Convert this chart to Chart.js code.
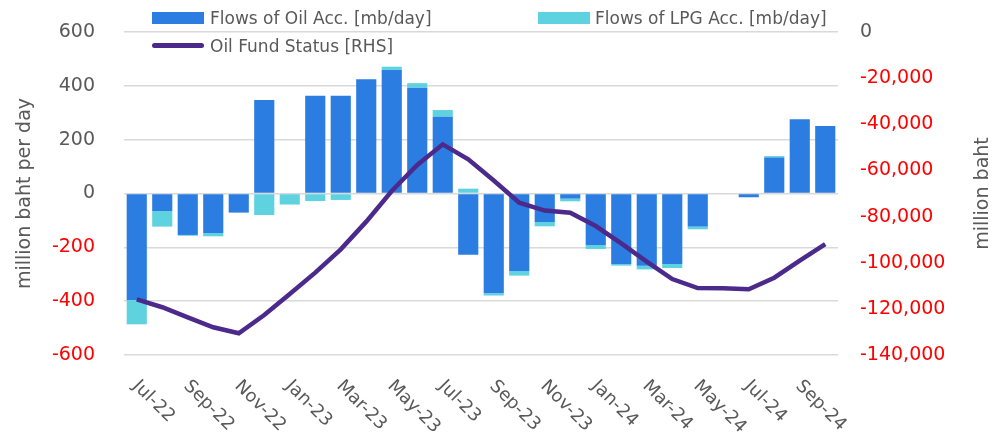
<!DOCTYPE html>
<html>
<head>
<meta charset="utf-8">
<script src="https://cdn.jsdelivr.net/npm/chart.js@4.4.1/dist/chart.umd.min.js"></script>
<style>
  body { margin: 0; background: #fff; font-family: 'DejaVu Sans', sans-serif; }
  #wrap { position: relative; width: 997px; height: 441px; }
  .leg { position: absolute; font-size: 17px; color: #595959; line-height: 20px; white-space: nowrap; }
  .sw { position: absolute; }
</style>
</head>
<body>
<div id="wrap">
  <canvas id="dataChart" width="997" height="441"></canvas>
  <div class="sw" style="left:152px;top:12px;width:52px;height:12px;background:#2b7de1"></div>
  <div class="leg" style="left:210px;top:8px">Flows of Oil Acc. [mb/day]</div>
  <div class="sw" style="left:538px;top:12px;width:52px;height:12px;background:#5fd2e0"></div>
  <div class="leg" style="left:595px;top:8px">Flows of LPG Acc. [mb/day]</div>
  <div class="sw" style="left:152px;top:43px;width:52px;height:5px;border-radius:3px;background:#4b2a8c"></div>
  <div class="leg" style="left:210px;top:36px">Oil Fund Status [RHS]</div>
</div>
<script>
// Data
const months = ['Jul-22', 'Aug-22', 'Sep-22', 'Oct-22', 'Nov-22', 'Dec-22', 'Jan-23', 'Feb-23', 'Mar-23', 'Apr-23',
    'May-23', 'Jun-23', 'Jul-23', 'Aug-23', 'Sep-23', 'Oct-23', 'Nov-23', 'Dec-23', 'Jan-24', 'Feb-24',
    'Mar-24', 'Apr-24', 'May-24', 'Jun-24', 'Jul-24', 'Aug-24', 'Sep-24', 'Oct-24'];
const oilFlows = [-396, -65, -154, -147, -71, 347, 0, 363, 363, 424, 459, 393, 285, -228,
    -371, -288, -106, -19, -191, -262, -268, -262, -123, 0, -14, 134, 276, 251];
const lpgFlows = [-90, -58, -3, -12, 0, -80, -41, -28, -24, 0, 12, 17, 25, 18,
    -8, -17, -16, -10, -15, -6, -14, -15, -10, 0, 3, 5, 0, 0];
const fundStatus = [-115900, -119300, -123700, -128000, -130600, -122700, -113600, -104300, -94200, -82200,
    -68900, -57600, -48700, -55200, -64400, -74000, -77400, -78300, -84100, -91600,
    -99500, -107100, -111000, -111100, -111500, -106500, -99100, -91900];
const leftTicks = [-600, 600, 200];
const rightTicks = [-140000, 0, 20000];

const grey = '#595959';
const red = '#ff0000';
const tickColor = c => c.tick.value < 0 ? red : grey;

// x labels go down to the right, axis titles read upward
const customText = {
    id: 'customText',
    afterDraw(chart) {
        const { ctx, scales, chartArea } = chart;
        ctx.save();
        ctx.fillStyle = grey;
        ctx.font = '18px "DejaVu Sans"';
        ctx.textBaseline = 'top';
        ctx.textAlign = 'left';
        months.forEach((m, i) => {
            if (i % 2) return;
            const x = scales.x.getPixelForValue(i);
            ctx.save();
            ctx.translate(x + 5, chartArea.bottom + 22);
            ctx.rotate(Math.PI / 4);
            ctx.fillText(m, 0, 0);
            ctx.restore();
        });
        const midY = (chartArea.top + chartArea.bottom) / 2;
        ctx.font = '19px "DejaVu Sans"';
        ctx.textAlign = 'center';
        ctx.textBaseline = 'middle';
        [[25, 'million baht per day'], [983, 'million baht']].forEach(([x, t]) => {
            ctx.save();
            ctx.translate(x, midY);
            ctx.rotate(-Math.PI / 2);
            ctx.fillText(t, 0, 0);
            ctx.restore();
        });
        ctx.restore();
    }
};

const ctx = document.getElementById('dataChart').getContext('2d');
new Chart(ctx, {
    data: {
        labels: months,
        datasets: [{
            type: 'line',
            label: 'Oil Fund Status [RHS]',
            data: fundStatus,
            yAxisID: 'y1',
            borderColor: '#4b2a8c',
            borderWidth: 4.5,
            pointRadius: 0,
            tension: 0,
            order: 0
        }, {
            type: 'bar',
            label: 'Flows of Oil Acc. [mb/day]',
            data: oilFlows,
            yAxisID: 'y',
            backgroundColor: '#2b7de1',
            barPercentage: 0.79,
            categoryPercentage: 1,
            order: 1
        }, {
            type: 'bar',
            label: 'Flows of LPG Acc. [mb/day]',
            data: lpgFlows,
            yAxisID: 'y',
            backgroundColor: '#5fd2e0',
            barPercentage: 0.79,
            categoryPercentage: 1,
            order: 1
        }]
    },
    options: {
        responsive: false,
        animation: false,
        layout: { padding: { top: 32 } },
        plugins: {
            legend: { display: false },
            tooltip: { enabled: false }
        },
        scales: {
            x: {
                stacked: true,
                grid: { display: false },
                border: { display: false },
                ticks: { display: false },
                afterFit: s => { s.height = 86; }
            },
            y: {
                stacked: true,
                position: 'left',
                min: leftTicks[0],
                max: leftTicks[1],
                ticks: {
                    stepSize: leftTicks[2],
                    color: tickColor,
                    padding: 29,
                    font: { family: 'DejaVu Sans', size: 19 }
                },
                grid: { color: '#d9d9d9', lineWidth: 1.5, drawTicks: false },
                border: { display: false },
                afterFit: s => { s.width = 124; s.paddingTop = 0; s.paddingBottom = 0; }
            },
            y1: {
                position: 'right',
                min: rightTicks[0],
                max: rightTicks[1],
                ticks: {
                    stepSize: rightTicks[2],
                    color: tickColor,
                    padding: 22,
                    font: { family: 'DejaVu Sans', size: 19 },
                    callback: v => v.toLocaleString('en-US')
                },
                grid: { display: false, drawTicks: false },
                border: { display: false },
                afterFit: s => { s.width = 159; s.paddingTop = 0; s.paddingBottom = 0; }
            }
        }
    },
    plugins: [customText]
});
</script>
</body>
</html>
